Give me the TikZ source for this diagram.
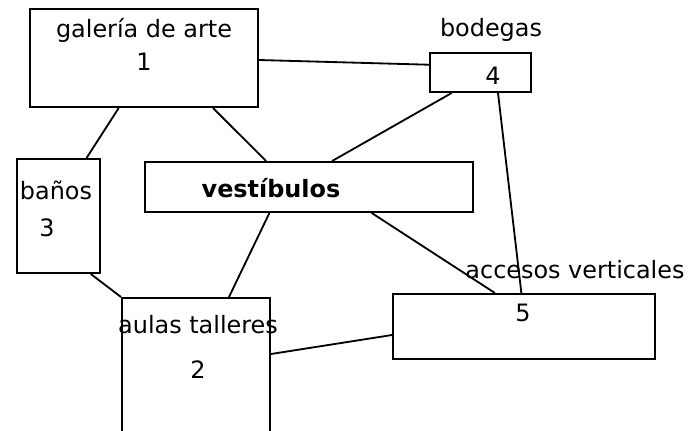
\documentclass[tikz,border=0pt]{standalone}
\usepackage{fontspec}
\setmainfont{DejaVu Sans}
\usetikzlibrary{calc}

\begin{document}
\begin{tikzpicture}[
    x=0.025cm, y=-0.025cm,
    font=\fontsize{17}{19}\selectfont,
    box/.style={
        rectangle,
        draw=black,
        line width=1.4pt,
        inner sep=0pt
    },
    line/.style={draw, line width=1.3pt},
    lbl/.style={inner sep=0pt},
]
\useasboundingbox (0,0) rectangle (688,430);
\clip (0,0) rectangle (688,430);

% Boxes
\node[box, minimum width=5.7cm,  minimum height=2.45cm]  (gal) at (144,58)    {};
\node[box, minimum width=2.525cm, minimum height=0.975cm] (bod) at (480.5,72.5) {};
\node[box, minimum width=8.2cm,  minimum height=1.25cm]  (ves) at (309,187)   {};
\node[box, minimum width=2.075cm, minimum height=2.85cm] (ban) at (58.5,216)  {};
\node[box, minimum width=3.7cm,  minimum height=4.05cm]  (aul) at (196,379)   {};
\node[box, minimum width=6.55cm, minimum height=1.625cm] (acc) at (524,326.5) {};

% Texts
\node[lbl] (galname) at (144,30)  {galería de arte};
\node[lbl] (galnum)  at (144,62)  {1};
\node[lbl] (bodname) at (491,30)  {bodegas};
\node[lbl] (bodnum)  at (493,76)  {4};
\node[lbl] (vesname) at (271,188) {\bfseries vestíbulos};
\node[lbl] (banname) at (56,190)  {baños};
\node[lbl] (bannum)  at (47,228)  {3};
\node[lbl] (aulname) at (198,325) {aulas talleres};
\node[lbl] (aulnum)  at (198,370) {2};
\node[lbl] (accname) at (575,270) {accesos verticales};
\node[lbl] (accnum)  at (523,313) {5};

% Connections
\draw[line] ($(gal.north east)!.52!(gal.south east)$) -- ($(bod.north west)!.31!(bod.south west)$);
\draw[line] ($(gal.south west)!.39!(gal.south east)$) -- ($(ban.north west)!.83!(ban.north east)$);
\draw[line] ($(gal.south west)!.8!(gal.south east)$)  -- ($(ves.north west)!.37!(ves.north east)$);

\draw[line] ($(bod.south west)!.22!(bod.south east)$) -- ($(ves.north west)!.57!(ves.north east)$);
\draw[line] ($(bod.south west)!.67!(bod.south east)$) -- ($(acc.north west)!.49!(acc.north east)$);

\draw[line] ($(ves.south west)!.69!(ves.south east)$) -- ($(acc.north west)!.39!(acc.north east)$);
\draw[line] ($(ves.south west)!.38!(ves.south east)$) -- ($(aul.north west)!.72!(aul.north east)$);

\draw[line] ($(ban.south west)!.88!(ban.south east)$) -- (aul.north west);
\draw[line] ($(aul.north east)+(0,57)$) -- ($(acc.north west)+(0,42)$);

\end{tikzpicture}
\end{document}
